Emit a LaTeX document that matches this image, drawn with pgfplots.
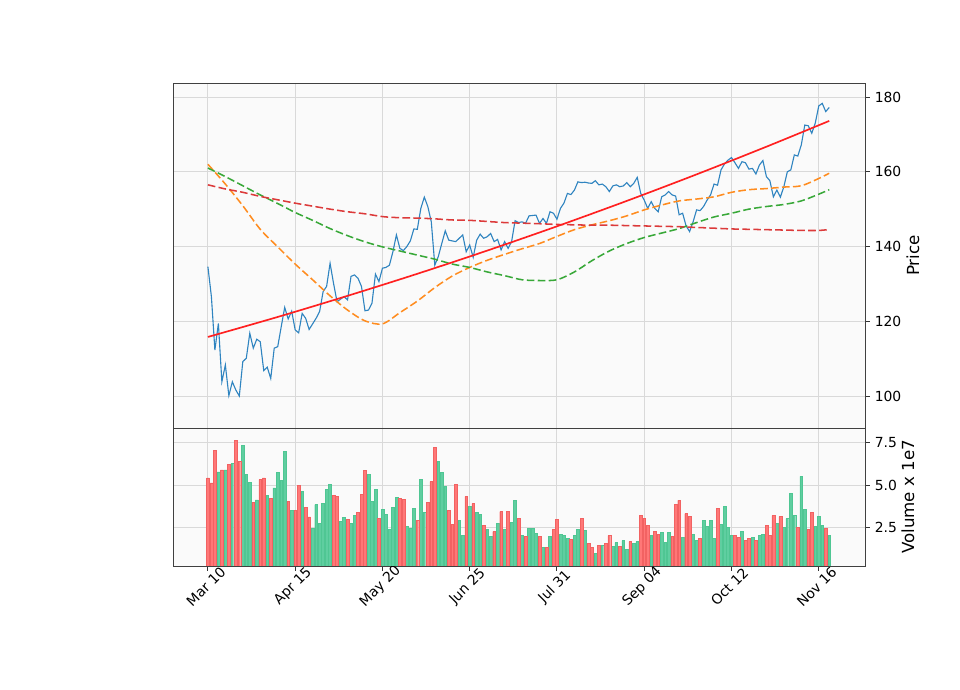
\documentclass[border=0pt]{standalone}
\usepackage{fontspec}
\setmainfont{DejaVu Sans}
\usepackage{pgfplots}
\pgfplotsset{compat=1.18}
\usepackage{pgfplotstable}
\definecolor{bgc}{HTML}{FAFAFA}
\definecolor{gridc}{HTML}{D9D9D9}
\definecolor{pblue}{HTML}{2F84C0}
\definecolor{maorange}{HTML}{FF8C1F}
\definecolor{magreen}{HTML}{38A838}
\definecolor{mared}{HTML}{DC3A3A}
\definecolor{trendred}{HTML}{FF2020}
\definecolor{upc}{HTML}{5FCEA0}
\definecolor{upe}{HTML}{4FC693}
\definecolor{dnc}{HTML}{FF7777}
\definecolor{dne}{HTML}{F26262}

\pgfplotstableread{
p
134.6
126.6
112.3
119.4
103.8
108.3
100.1
103.8
101.6
100.0
109.2
110.1
116.8
112.8
115.2
114.5
106.8
107.7
104.7
112.8
113.2
118.5
123.7
120.6
122.7
117.7
116.9
122.1
120.8
117.8
119.3
120.8
122.6
127.9
129.3
135.5
130.1
125.2
125.9
126.6
125.7
132.0
132.4
131.5
129.3
122.8
123.0
124.8
132.6
130.6
134.2
134.4
135.0
138.6
143.1
139.5
138.9
140.0
141.5
144.7
144.6
150.2
153.2
150.7
146.6
135.0
137.3
140.8
144.2
141.7
141.5
141.3
142.2
143.1
138.6
140.4
137.1
141.7
143.3
142.2
142.6
143.5
141.3
141.9
139.1
141.3
139.5
141.3
146.9
146.4
146.6
146.2
148.2
148.3
148.4
146.2
147.5
146.2
149.3
148.9
147.3
150.2
151.6
154.2
153.9
155.1
157.3
157.1
157.2
157.0
156.9
157.6
156.5
156.7
156.0
154.7
156.2
156.5
156.0
156.2
157.1
156.0
156.9
158.5
154.2
152.4
150.2
152.0
150.2
149.3
153.3
153.8
154.7
153.8
153.5
148.5
148.9
145.5
144.0
146.6
149.8
149.6
150.7
152.4
153.8
156.7
156.4
160.5
162.1
163.1
163.8
162.4
160.9
162.7
162.4
160.7
160.9
159.4
161.8
163.0
158.7
157.6
153.3
155.1
153.2
156.0
160.0
160.5
164.5
164.2
167.2
172.5
172.3
170.3
173.0
177.6
178.3
176.1
177.2
}\price

\pgfplotstableread{
x v
3 5.79
5 5.91
7 6.28
10 7.34
11 5.64
12 5.16
14 4.15
17 4.40
19 4.85
20 5.75
21 5.28
22 6.99
24 3.52
27 4.64
30 2.46
31 3.87
32 2.75
33 3.93
34 4.75
35 5.05
38 2.87
39 3.11
41 2.75
42 3.22
46 5.64
47 4.07
48 4.75
50 3.58
51 3.28
52 2.40
53 3.69
54 4.28
57 2.58
58 2.46
59 3.64
61 5.34
62 3.40
66 6.40
67 5.75
68 4.93
72 2.93
73 2.05
75 3.75
77 3.40
78 3.28
80 2.40
81 1.99
83 2.75
85 2.40
87 2.81
88 4.11
90 2.05
92 2.46
93 2.46
94 2.16
96 1.34
98 1.99
101 2.11
102 2.05
103 1.87
105 2.05
106 2.40
108 2.34
111 0.99
113 1.46
116 1.40
117 1.64
119 1.75
120 1.22
122 1.58
123 1.69
127 2.05
130 2.22
131 1.64
132 2.22
136 1.93
139 2.11
140 1.75
142 2.93
143 2.58
144 2.93
145 1.87
147 2.69
148 3.75
149 2.52
150 2.05
153 2.28
156 1.93
158 2.05
159 2.11
163 2.75
165 2.52
166 3.05
167 4.52
168 3.22
170 5.52
171 3.58
174 2.58
175 3.16
176 2.64
178 2.05
}\volup

\pgfplotstableread{
x v
0 5.44
1 5.15
2 7.05
4 5.91
6 6.22
8 7.64
9 6.40
13 3.99
15 5.34
16 5.44
18 4.22
23 4.05
25 3.52
26 4.99
28 3.69
29 3.15
36 4.40
37 4.34
40 2.99
43 3.40
44 4.46
45 5.87
49 3.05
55 4.22
56 4.16
60 2.93
63 3.99
64 5.22
65 7.22
69 3.52
70 2.69
71 5.05
74 4.34
76 3.93
79 2.64
82 2.28
84 3.46
86 3.46
89 3.05
91 1.99
95 1.99
97 1.34
99 2.40
100 2.99
104 1.81
107 3.05
109 1.58
110 1.34
112 1.46
114 1.58
115 2.05
118 1.40
121 1.69
124 3.22
125 3.05
126 2.64
128 2.28
129 2.11
133 1.99
134 3.87
135 4.11
137 3.34
138 3.16
141 1.87
146 3.64
151 2.05
152 1.93
154 1.75
155 1.87
157 1.75
160 2.64
161 2.05
162 3.22
164 3.16
169 2.52
172 2.40
173 3.40
177 2.46
}\voldown

\pgfplotsset{
 panel/.style={
  scale only axis, width=498.24pt, xmin=-10, xmax=188.25,
  axis background/.style={fill=bgc},
  xmajorgrids=true, ymajorgrids=true,
  grid style={gridc, line width=0.7pt},
  axis line style={black!75, line width=0.7pt},
  tick align=outside, major tick length=3.5pt,
  every tick/.style={black!80, line width=0.7pt},
  xtick={0,25,...,175},
  ytick pos=right, yticklabel pos=right,
  tick label style={font=\fontsize{10}{12}\selectfont, black},
  /pgf/number format/assume math mode=true,
 }
}

\begin{document}
\begin{tikzpicture}
\useasboundingbox (0,0) rectangle (691.2pt,496.8pt);

\begin{axis}[panel,
  at={(124.56pt,188.64pt)}, anchor=south west, height=248.4pt,
  ymin=91.44, ymax=183.75, ytick={100,120,140,160,180},
  xmajorticks=false,
  ylabel={Price},
  every axis y label/.style={at={(axis description cs:1,0.5)}, rotate=90, anchor=center, yshift=-34.56pt, font=\fontsize{12}{14}\selectfont},
]
\addplot[pblue, line width=0.8pt] table[x expr=\coordindex, y=p] {\price};
\addplot[maorange, line width=1.1pt, dash pattern=on 5.5pt off 2.4pt, smooth] coordinates {
(0,162.0) (5,156.7) (10,150.9) (15,144.6) (20,139.9) (25,135.3) (30,131.1) (35,126.8) (40,123.0) (45,120.1) (50,119.3) (55,122.3) (60,125.4) (65,129.0) (70,132.1) (75,134.4) (80,136.3) (85,137.9) (90,139.4) (95,140.8) (100,142.7) (105,144.5) (110,145.8) (115,146.9) (120,148.2) (125,149.8) (130,151.1) (135,152.2) (140,152.7) (145,153.3) (150,154.5) (155,155.2) (160,155.5) (165,155.9) (170,156.25) (175,158.2) (178,159.6)};
\addplot[magreen, line width=1.1pt, dash pattern=on 5.5pt off 2.4pt, smooth] coordinates {
(0,161.0) (5,158.7) (10,156.25) (15,153.8) (20,151.5) (25,149.1) (30,147.0) (35,144.8) (40,142.9) (45,141.25) (50,139.9) (55,138.8) (60,137.7) (65,136.6) (70,135.3) (75,134.4) (80,133.2) (85,132.2) (90,131.1) (95,130.9) (100,131.1) (105,133.2) (110,136.2) (115,138.8) (120,140.8) (125,142.4) (130,143.6) (135,144.8) (140,146.4) (145,147.9) (150,148.9) (155,150.0) (160,150.7) (165,151.25) (170,152.2) (175,154.0) (178,155.2)};
\addplot[mared, line width=1.1pt, dash pattern=on 5.5pt off 2.4pt, smooth] coordinates {
(0,156.5) (5,155.4) (10,154.5) (15,153.4) (20,152.5) (25,151.6) (30,150.8) (35,150.0) (40,149.3) (45,148.75) (50,148.0) (55,147.7) (60,147.6) (65,147.4) (70,147.1) (75,147.0) (80,146.7) (85,146.4) (90,146.25) (95,146.1) (100,145.9) (105,145.8) (110,145.7) (115,145.7) (120,145.6) (125,145.5) (130,145.4) (135,145.3) (140,145.1) (145,144.9) (150,144.7) (155,144.6) (160,144.5) (165,144.4) (170,144.3) (175,144.3) (178,144.55)};
\addplot[trendred, line width=1.2pt, smooth] coordinates {
(0,115.8) (20,121.15) (40,126.8) (60,132.7) (80,138.9) (100,145.4) (120,152.2) (140,159.3) (160,166.7) (178,173.6)};
\end{axis}

\begin{axis}[panel,
  at={(124.56pt,89.28pt)}, anchor=south west, height=99.36pt,
  ymin=0.26, ymax=8.37, ytick={2.5,5,7.5}, yticklabels={2.5,5.0,7.5},
  xtick pos=bottom,
  xticklabels={Mar 10,Apr 15,May 20,Jun 25,Jul 31,Sep 04,Oct 12,Nov 16},
  xticklabel style={rotate=45, anchor=center, xshift=-9.15pt, yshift=-7.1pt},
  ylabel={Volume x 1e7},
  every axis y label/.style={at={(axis description cs:1,0.5)}, rotate=90, anchor=center, yshift=-30.96pt, font=\fontsize{12}{14}\selectfont},
]
\addplot[ybar, bar width=0.8, bar shift=0pt, fill=upc, draw=upe, line width=0.3pt] table[x=x, y=v] {\volup};
\addplot[ybar, bar width=0.8, bar shift=0pt, fill=dnc, draw=dne, line width=0.3pt] table[x=x, y=v] {\voldown};
\end{axis}
\end{tikzpicture}
\end{document}
